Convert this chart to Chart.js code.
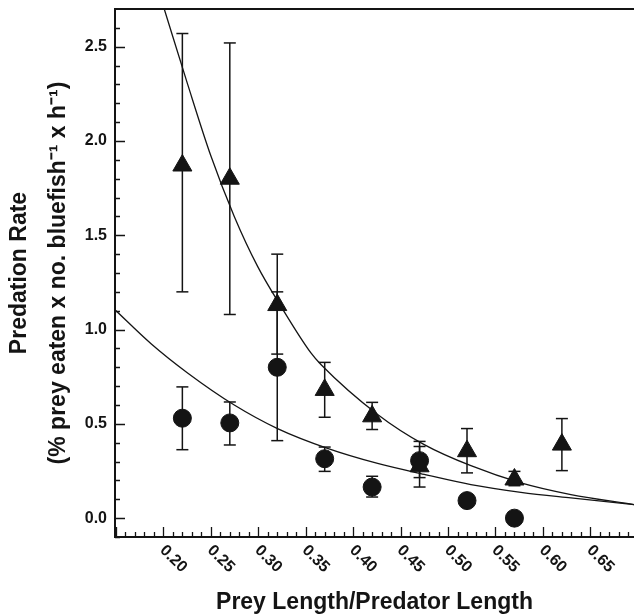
<!DOCTYPE html>
<html>
<head>
<meta charset="utf-8">
<script src="https://cdn.jsdelivr.net/npm/chart.js@4/dist/chart.umd.min.js"></script>
<style>
  html, body { margin: 0; padding: 0; background: #fff; overflow: hidden; }
  #grafico { display: block; }
</style>
</head>
<body>
<canvas id="grafico" width="634" height="616"></canvas>
<script>
// prey length / predator length for each treatment
const ratio = [0.22, 0.27, 0.32, 0.37, 0.42, 0.47, 0.52, 0.57, 0.62];

// triangles
const triMean = [1.87, 1.80, 1.13, 0.68, 0.54, 0.275, 0.355, 0.205, 0.39];
const triLow  = [1.20, 1.08, 0.87, 0.535, 0.47, 0.165, 0.24, 0.172, 0.252];
const triHigh = [2.57, 2.52, 1.40, 0.826, 0.614, 0.407, 0.475, 0.248, 0.528];

// circles (no bars visible on the last two)
const cirRatio = [0.22, 0.27, 0.32, 0.37, 0.42, 0.47, 0.52, 0.57];
const cirMean = [0.53, 0.505, 0.80, 0.315, 0.165, 0.305, 0.093, 0.0];
const cirLow  = [0.363, 0.388, 0.411, 0.248, 0.112, 0.215, null, null];
const cirHigh = [0.696, 0.616, 1.20, 0.377, 0.222, 0.38, null, null];

// fitted curves
const triFitX = [0.2009, 0.2256, 0.2501, 0.2747, 0.2993, 0.3239, 0.3555, 0.3660, 0.4258, 0.4749, 0.5241, 0.5768, 0.6295, 0.696];
const triFitY = [2.70, 2.30, 1.92, 1.60, 1.335, 1.123, 0.876, 0.815, 0.55, 0.390, 0.278, 0.187, 0.125, 0.072];
const cirFitX = [0.149, 0.187, 0.2255, 0.2747, 0.3203, 0.373, 0.4258, 0.4749, 0.5241, 0.5768, 0.6295, 0.696];
const cirFitY = [1.105, 0.925, 0.77, 0.60, 0.475, 0.37, 0.29, 0.232, 0.178, 0.137, 0.107, 0.072];

const xTickLabels = ["0.20", "0.25", "0.30", "0.35", "0.40", "0.45", "0.50", "0.55", "0.60", "0.65"];

const INK = "#141414";
const FONT = "'Liberation Sans', Arial, Helvetica, sans-serif";
Chart.defaults.font.family = FONT;
Chart.defaults.color = INK;

const pts = (xs, ys) => xs.map((x, i) => ({ x, y: ys[i] }));

const barSegments = (xs, lo, hi) => {
    const out = [];
    xs.forEach((x, i) => {
        if (lo[i] == null) return;
        out.push({ x, y: lo[i] }, { x, y: hi[i] }, { x, y: null });
    });
    return out;
};

const capPoints = (xs, lo, hi) => {
    const out = [];
    xs.forEach((x, i) => {
        if (lo[i] == null) return;
        out.push({ x, y: lo[i] }, { x, y: hi[i] });
    });
    return out;
};

// inward ticks (major + minor), rotated x labels, top frame line
const axisDecor = {
    id: "axisDecor",
    afterDraw(chart) {
        const { ctx, chartArea: a, scales: { x, y } } = chart;
        ctx.save();
        ctx.strokeStyle = INK;
        ctx.lineWidth = 1.3;

        ctx.beginPath();
        for (let i = 15; i <= 69; i++) {
            const px = Math.round(x.getPixelForValue(i / 100)) + 0.5;
            const len = i % 5 === 0 ? 10 : 5;
            ctx.moveTo(px, a.bottom);
            ctx.lineTo(px, a.bottom - len);
        }
        for (let i = -1; i <= 26; i++) {
            const py = Math.round(y.getPixelForValue(i / 10)) + 0.5;
            const len = i % 5 === 0 ? 10 : 5;
            ctx.moveTo(a.left, py);
            ctx.lineTo(a.left + len, py);
        }
        ctx.stroke();

        ctx.lineWidth = 2;
        ctx.beginPath();
        ctx.moveTo(a.left, a.top);
        ctx.lineTo(a.right, a.top);
        ctx.stroke();

        ctx.fillStyle = INK;
        ctx.font = "bold 16px " + FONT;
        ctx.textAlign = "left";
        ctx.textBaseline = "middle";
        xTickLabels.forEach(t => {
            const px = x.getPixelForValue(parseFloat(t));
            ctx.save();
            ctx.translate(px - 1, a.bottom + 11);
            ctx.rotate(Math.PI / 4);
            ctx.fillText(t, 0, 0);
            ctx.restore();
        });
        ctx.restore();
    }
};

const ctx = document.getElementById("grafico").getContext("2d");

new Chart(ctx, {
    type: "scatter",
    data: {
        datasets: [
            {
                data: pts(ratio, triMean),
                pointStyle: "triangle",
                pointRadius: 11,
                backgroundColor: INK,
                borderColor: INK,
                borderWidth: 1
            },
            {
                data: pts(cirRatio, cirMean),
                pointStyle: "circle",
                pointRadius: 9,
                backgroundColor: INK,
                borderColor: INK,
                borderWidth: 1
            },
            {
                data: capPoints(ratio, triLow, triHigh),
                pointStyle: "line",
                pointRadius: 6,
                borderColor: INK,
                borderWidth: 1.5
            },
            {
                data: capPoints(cirRatio, cirLow, cirHigh),
                pointStyle: "line",
                pointRadius: 6,
                borderColor: INK,
                borderWidth: 1.5
            },
            {
                data: barSegments(ratio, triLow, triHigh),
                showLine: true,
                spanGaps: false,
                pointRadius: 0,
                borderColor: INK,
                borderWidth: 1.5
            },
            {
                data: barSegments(cirRatio, cirLow, cirHigh),
                showLine: true,
                spanGaps: false,
                pointRadius: 0,
                borderColor: INK,
                borderWidth: 1.5
            },
            {
                data: pts(triFitX, triFitY),
                showLine: true,
                pointRadius: 0,
                borderColor: INK,
                borderWidth: 1.3,
                cubicInterpolationMode: "monotone"
            },
            {
                data: pts(cirFitX, cirFitY),
                showLine: true,
                pointRadius: 0,
                borderColor: INK,
                borderWidth: 1.3,
                cubicInterpolationMode: "monotone"
            }
        ]
    },
    options: {
        responsive: false,
        animation: false,
        layout: { autoPadding: false, padding: { top: 9, right: 0, bottom: 0, left: 0 } },
        plugins: {
            legend: { display: false },
            tooltip: { enabled: false }
        },
        scales: {
            x: {
                type: "linear",
                min: 0.149,
                max: 0.696,
                grid: { display: false, drawTicks: false },
                border: { display: true, color: INK, width: 2 },
                ticks: { display: false },
                title: {
                    display: true,
                    text: "Prey Length/Predator Length",
                    font: { size: 23, weight: "bold" },
                    color: INK,
                    padding: { top: 0, bottom: 0 }
                },
                afterFit: s => { s.height = 79; s.paddingLeft = 0; s.paddingRight = 0; }
            },
            y: {
                min: -0.1,
                max: 2.7,
                grid: { display: false, drawTicks: false },
                border: { display: true, color: INK, width: 2 },
                ticks: {
                    stepSize: 0.5,
                    includeBounds: false,
                    padding: 8,
                    color: INK,
                    font: { size: 16, weight: "bold" },
                    callback: v => Number(v).toFixed(1)
                },
                title: {
                    display: true,
                    text: ["Predation Rate", "(% prey eaten x no. bluefish\u207B\u00B9 x h\u207B\u00B9)"],
                    font: { size: 23, weight: "bold", lineHeight: 1.7 },
                    color: INK,
                    padding: { top: 0, bottom: 0 }
                },
                afterFit: s => { s.width = 115; s.paddingTop = 0; s.paddingBottom = 0; }
            }
        }
    },
    plugins: [axisDecor]
});
</script>
</body>
</html>
